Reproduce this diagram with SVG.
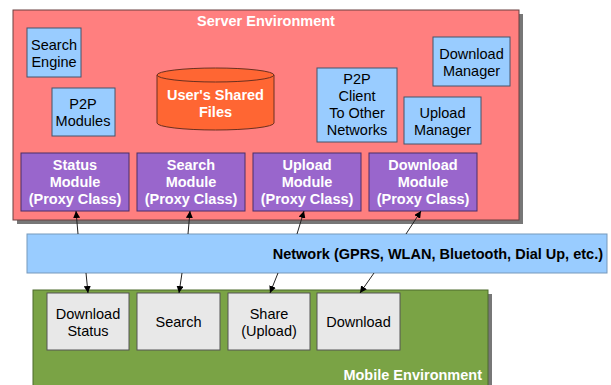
<svg xmlns="http://www.w3.org/2000/svg" width="611" height="385" viewBox="0 0 611 385">
<style>
text{font-family:"Liberation Sans",Arial,sans-serif;font-size:14.5px;text-anchor:middle}
.b{font-weight:bold}
.w{fill:#fff}
.blue{fill:#99ccff;stroke:#44556a;stroke-width:1}
.pur{fill:#9966cc;stroke:#4a2f66;stroke-width:1}
.gry{fill:#e8e8e8;stroke:#555;stroke-width:1}
.conn line{stroke:#222;stroke-width:1;marker-end:url(#ah)}
</style>
<defs>
<marker id="ah" viewBox="0 0 10 10" refX="10" refY="5" markerWidth="7" markerHeight="7" orient="auto" markerUnits="userSpaceOnUse"><path d="M0,0 L10,5 L0,10 z" fill="#000"/></marker>
</defs>
<g id="server">
<rect x="17" y="14" width="506" height="210" fill="#777"/>
<rect x="13" y="10" width="506" height="210" fill="#ff7f7f" stroke="#6a4040" stroke-width="1"/>
<text x="266" y="26" class="b w">Server Environment</text>
</g>
<g id="search-engine"><rect class="blue" x="27" y="28" width="54" height="49"/><text x="54" y="50">Search</text><text x="54" y="67">Engine</text></g>
<g id="p2p-modules"><rect class="blue" x="52" y="88" width="63" height="48"/><text x="83" y="109">P2P</text><text x="83" y="126">Modules</text></g>
<g id="shared-files">
<path d="M157,75 L157,123 A58.5,7 0 0 0 274,123 L274,75" fill="#ff6633" stroke="#6a3020"/>
<ellipse cx="215.5" cy="75" rx="58.5" ry="7" fill="#ff6633" stroke="#6a3020"/>
<text x="215.5" y="100" class="b w">User's Shared</text><text x="215.5" y="117" class="b w">Files</text>
</g>
<g id="p2p-client"><rect class="blue" x="317" y="68" width="80" height="74"/><text x="357" y="84">P2P</text><text x="357" y="101">Client</text><text x="357" y="118">To Other</text><text x="357" y="135">Networks</text></g>
<g id="download-manager"><rect class="blue" x="433" y="37" width="77" height="49"/><text x="471.5" y="59">Download</text><text x="471.5" y="76">Manager</text></g>
<g id="upload-manager"><rect class="blue" x="404" y="97" width="77" height="47"/><text x="442.5" y="118">Upload</text><text x="442.5" y="135">Manager</text></g>
<g id="status-module"><rect class="pur" x="21" y="153" width="108" height="58"/><text x="75" y="170" class="b w">Status</text><text x="75" y="187" class="b w">Module</text><text x="75" y="204" class="b w">(Proxy Class)</text></g>
<g id="search-module"><rect class="pur" x="137" y="153" width="108" height="58"/><text x="191" y="170" class="b w">Search</text><text x="191" y="187" class="b w">Module</text><text x="191" y="204" class="b w">(Proxy Class)</text></g>
<g id="upload-module"><rect class="pur" x="253" y="153" width="108" height="58"/><text x="307" y="170" class="b w">Upload</text><text x="307" y="187" class="b w">Module</text><text x="307" y="204" class="b w">(Proxy Class)</text></g>
<g id="download-module"><rect class="pur" x="369" y="153" width="108" height="58"/><text x="423" y="170" class="b w">Download</text><text x="423" y="187" class="b w">Module</text><text x="423" y="204" class="b w">(Proxy Class)</text></g>
<g id="network"><rect x="27" y="234" width="580" height="39" fill="#99ccff" stroke="#7799bb"/><text x="603" y="259" class="b" style="text-anchor:end">Network (GPRS, WLAN, Bluetooth, Dial Up, etc.)</text></g>
<g id="mobile">
<rect x="37" y="294" width="455" height="95" fill="#777"/>
<rect x="33" y="290" width="455" height="100" fill="#7aa345" stroke="#4d6a2c"/>
<text x="482" y="380" class="b w" style="text-anchor:end">Mobile Environment</text>
</g>
<g id="download-status"><rect class="gry" x="47" y="293" width="82" height="57"/><text x="88" y="319">Download</text><text x="88" y="336">Status</text></g>
<g id="search"><rect class="gry" x="137" y="293" width="83" height="57"/><text x="178.5" y="327">Search</text></g>
<g id="share"><rect class="gry" x="228" y="293" width="82" height="57"/><text x="269" y="319">Share</text><text x="269" y="336">(Upload)</text></g>
<g id="download"><rect class="gry" x="317" y="293" width="83" height="57"/><text x="358.5" y="327">Download</text></g>
<g class="conn" id="connectors">
<line x1="78" y1="234" x2="76" y2="211"/>
<line x1="188" y1="234" x2="190" y2="211"/>
<line x1="297" y1="234" x2="304" y2="211"/>
<line x1="406" y1="234" x2="421" y2="211"/>
<line x1="86" y1="273" x2="88" y2="293"/>
<line x1="182" y1="273" x2="179" y2="293"/>
<line x1="278" y1="273" x2="270" y2="293"/>
<line x1="374" y1="273" x2="360" y2="293"/>
</g>
</svg>
